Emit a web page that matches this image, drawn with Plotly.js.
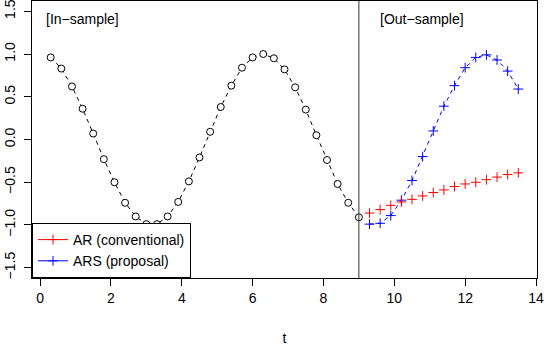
<!DOCTYPE html>
<html>
<head>
<meta charset="utf-8">
<script src="https://cdn.plot.ly/plotly-3.0.1.min.js"></script>
<style>
  html, body { margin: 0; padding: 0; background: #fff; }
  #chart { width: 544px; height: 346px; }
</style>
</head>
<body>
<div id="chart"></div>
<script>
// in-sample series (t = 0.3 ... 9.0)
const tIn = [0.3, 0.6, 0.9, 1.2, 1.5, 1.8, 2.1, 2.4, 2.7, 3.0,
             3.3, 3.6, 3.9, 4.2, 4.5, 4.8, 5.1, 5.4, 5.7, 6.0,
             6.3, 6.6, 6.9, 7.2, 7.5, 7.8, 8.1, 8.4, 8.7, 9.0];
const yIn = [0.96, 0.83, 0.62, 0.36, 0.07, -0.23, -0.50, -0.74, -0.90, -0.99,
             -0.99, -0.90, -0.73, -0.49, -0.21, 0.09, 0.38, 0.63, 0.84, 0.96,
             1.00, 0.95, 0.82, 0.61, 0.35, 0.05, -0.24, -0.52, -0.74, -0.91];

// out-of-sample forecasts (t = 9.3 ... 13.5)
const tOut = [9.3, 9.6, 9.9, 10.2, 10.5, 10.8, 11.1, 11.4, 11.7, 12.0,
              12.3, 12.6, 12.9, 13.2, 13.5];
const yAR = [-0.86, -0.82, -0.77, -0.73, -0.70, -0.66, -0.62, -0.59, -0.55, -0.52,
             -0.50, -0.47, -0.44, -0.41, -0.39];
const yARS = [-0.99, -0.98, -0.89, -0.71, -0.48, -0.20, 0.10, 0.39, 0.63, 0.84,
              0.96, 0.99, 0.93, 0.80, 0.59];

const xTicks = [0, 2, 4, 6, 8, 10, 12, 14];
const yTicks = [-1.5, -1.0, -0.5, 0.0, 0.5, 1.0, 1.5];
const yTickText = ['\u22121.5', '\u22121.0', '\u22120.5', '0.0', '0.5', '1.0', '1.5'];

const font = { family: 'Liberation Sans, Arial, sans-serif', size: 14, color: '#000' };

const plus = (color) => ({ symbol: 'cross-thin-open', size: 7, color: color, line: { color: color, width: 1 } });

const traces = [
  {
    x: tIn, y: yIn, type: 'scatter', mode: 'lines+markers',
    showlegend: false,
    line: { color: '#000', width: 1, dash: '4px,4px' },
    marker: { symbol: 'circle', size: 7, color: '#fff', line: { color: '#000', width: 1 } }
  },
  {
    x: tOut, y: yARS, type: 'scatter', mode: 'lines+markers',
    showlegend: false,
    line: { color: '#0000ff', width: 1, dash: '4px,4px' },
    marker: plus('#0000ff')
  },
  {
    x: tOut, y: yAR, type: 'scatter', mode: 'markers',
    showlegend: false,
    marker: plus('#ff0000')
  },
  // legend entries (solid line + plus, as in the original legend)
  {
    x: [null], y: [null], type: 'scatter', mode: 'lines+markers',
    name: 'AR (conventional)',
    line: { color: '#ff0000', width: 1 },
    marker: plus('#ff0000')
  },
  {
    x: [null], y: [null], type: 'scatter', mode: 'lines+markers',
    name: 'ARS (proposal)',
    line: { color: '#0000ff', width: 1 },
    marker: plus('#0000ff')
  }
];

const layout = {
  width: 544,
  height: 346,
  margin: { l: 32, r: 7, t: 1, b: 68 },
  paper_bgcolor: '#fff',
  plot_bgcolor: '#fff',
  font: font,
  xaxis: {
    range: [-0.228, 14.028],
    tickvals: xTicks,
    ticktext: xTicks.map(String),
    ticklabeloverflow: 'allow',
    ticks: 'outside', ticklen: 7, tickwidth: 1, tickcolor: '#000',
    showline: true, linecolor: '#000', linewidth: 1, mirror: true,
    showgrid: false, zeroline: false,
    title: { text: 't', font: font, standoff: 30 }
  },
  yaxis: {
    range: [-1.62, 1.62],
    tickvals: yTicks,
    ticktext: yTickText,
    tickangle: -90,
    ticklabelstandoff: 3,
    ticklabeloverflow: 'allow',
    ticks: 'outside', ticklen: 7, tickwidth: 1, tickcolor: '#000',
    showline: true, linecolor: '#000', linewidth: 1, mirror: true,
    showgrid: false, zeroline: false
  },
  shapes: [
    { type: 'line', xref: 'x', yref: 'paper', x0: 9, x1: 9, y0: 0, y1: 1,
      line: { color: '#333', width: 1 } }
  ],
  annotations: [
    { x: 0.12, y: 1.41, xref: 'x', yref: 'y', text: '[In\u2212sample]',
      showarrow: false, xanchor: 'left', yanchor: 'middle', font: font },
    { x: 9.55, y: 1.41, xref: 'x', yref: 'y', text: '[Out\u2212sample]',
      showarrow: false, xanchor: 'left', yanchor: 'middle', font: font }
  ],
  legend: {
    x: 0, y: 0, xanchor: 'left', yanchor: 'bottom',
    bgcolor: '#fff', bordercolor: '#000', borderwidth: 1,
    font: font
  },
  showlegend: true
};

Plotly.newPlot('chart', traces, layout, { displayModeBar: false, staticPlot: true });
</script>
</body>
</html>
